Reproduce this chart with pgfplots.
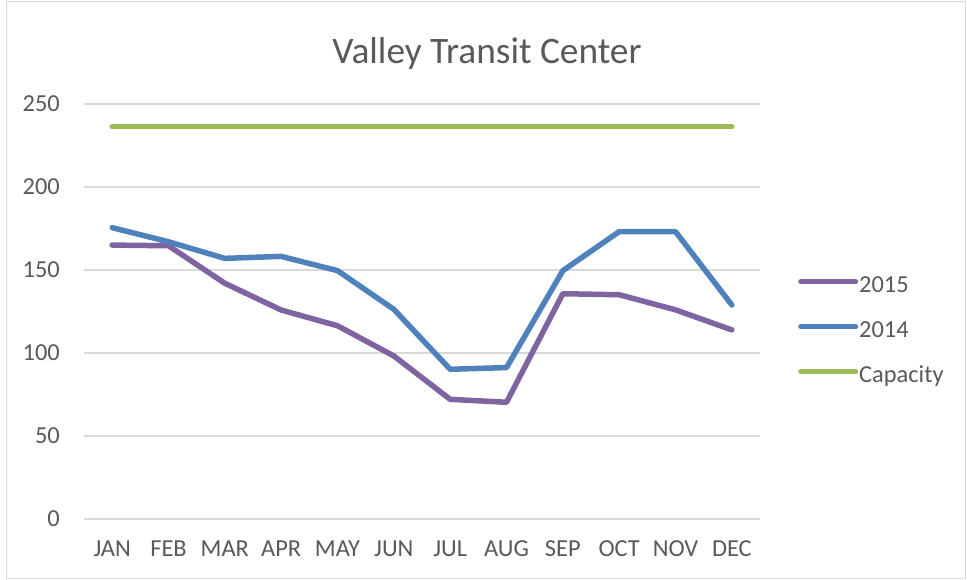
\documentclass[border=0pt]{standalone}
\usepackage{pgfplots}
\pgfplotsset{compat=1.18}
\usepackage{fontspec}
\setmainfont{Carlito}
\definecolor{txt}{HTML}{595959}
\definecolor{gridc}{HTML}{D9D9D9}
\definecolor{c2015}{HTML}{8064A2}
\definecolor{c2014}{HTML}{4F81BD}
\definecolor{ccap}{HTML}{9BBB59}
\begin{document}
\begin{tikzpicture}[x=1bp,y=1bp]
\useasboundingbox (0,0) rectangle (967,580);
\draw[gridc, line width=1bp] (6.5,1.5) rectangle (965.5,578.5);
\node[anchor=base, text=txt, font=\fontsize{37.5}{44}\selectfont, inner sep=0pt] at (487,516) {Valley Transit Center};
\begin{axis}[
  at={(84bp,61bp)}, anchor=south west,
  scale only axis, width=676bp, height=415bp,
  xmin=-0.5, xmax=11.5, ymin=0, ymax=250,
  xtick={0,...,11},
  xticklabels={JAN,FEB,MAR,APR,MAY,JUN,JUL,AUG,SEP,OCT,NOV,DEC},
  ytick={0,50,100,150,200,250},
  ymajorgrids, grid style={gridc, line width=1.3bp},
  axis line style={draw=none},
  major tick length=0pt,
  /pgf/number format/assume math mode=true,
  tick label style={text=txt, font=\fontsize{24.5}{29}\selectfont, inner sep=0pt},
  yticklabel style={anchor=base east, xshift=-24bp, yshift=-8bp},
  xticklabel style={anchor=base, yshift=-37.7bp},
  clip=false,
  legend style={at={(1.0562,0.450)}, anchor=west, draw=none, fill=none,
    inner sep=0pt, row sep=25bp,
    nodes={text=txt, font=\fontsize{24.5}{29}\selectfont, inner sep=0pt, text height=15bp, text depth=5bp}},
  legend cell align=left,
  legend image code/.code={\draw[#1, line width=5bp, line cap=round] (0bp,5.5bp) -- (55bp,5.5bp);},
  every axis plot/.append style={line width=5.5bp, line cap=round, line join=round, no markers},
]
\addplot[c2015] coordinates {(0,165) (1,164.6) (2,142) (3,125.9) (4,116.4) (5,98.2) (6,72.1) (7,70.3) (8,135.7) (9,135.1) (10,126) (11,113.9)};
\addlegendentry{\hspace{1bp}2015}
\addplot[c2014] coordinates {(0,175.5) (1,167) (2,157) (3,158.2) (4,149.6) (5,126.3) (6,90.2) (7,91.2) (8,149.6) (9,173.1) (10,173.1) (11,128.9)};
\addlegendentry{\hspace{1bp}2014}
\addplot[ccap] coordinates {(0,236.3) (1,236.3) (2,236.3) (3,236.3) (4,236.3) (5,236.3) (6,236.3) (7,236.3) (8,236.3) (9,236.3) (10,236.3) (11,236.3)};
\addlegendentry{\hspace{1bp}Capacity}
\end{axis}
\end{tikzpicture}
\end{document}
